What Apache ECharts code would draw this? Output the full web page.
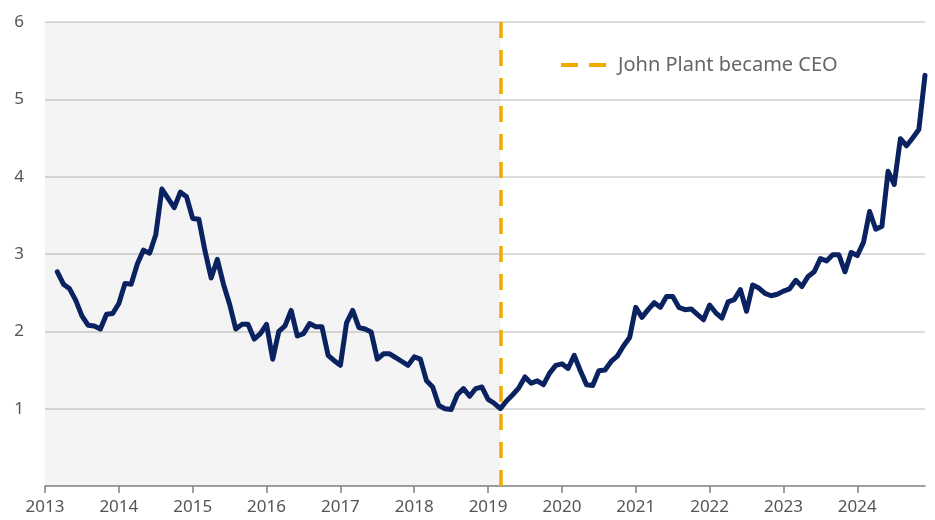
<!DOCTYPE html>
<html>
<head>
<meta charset="utf-8">
<script src="https://cdn.jsdelivr.net/npm/echarts@6/dist/echarts.min.js"></script>
<style>
html,body{margin:0;padding:0;background:#fff;}
#chart{width:935px;height:520px;}
</style>
</head>
<body>
<div id="chart"></div>
<script>
// Categories: monthly, Jan 2013 .. Dec 2024
const startYear = 2013;
const endYear = 2024;
const months = [];
for (let y = startYear; y <= endYear; y++) {
  for (let m = 1; m <= 12; m++) {
    months.push(y + '-' + (m < 10 ? '0' + m : '' + m));
  }
}
// Series values, Mar 2013 .. Dec 2024
const firstMonth = '2013-03';
const values = [
  2.77, 2.61, 2.55, 2.40, 2.20, 2.08, 2.07, 2.03, 2.22, 2.23,
  2.36, 2.62, 2.61, 2.87, 3.05, 3.01, 3.25, 3.84, 3.72, 3.60, 3.80, 3.74,
  3.46, 3.45, 3.04, 2.69, 2.93, 2.61, 2.35, 2.03, 2.09, 2.09, 1.90, 1.97,
  2.09, 1.64, 2.00, 2.07, 2.27, 1.94, 1.97, 2.10, 2.06, 2.06, 1.69, 1.62,
  1.56, 2.11, 2.27, 2.05, 2.03, 1.99, 1.64, 1.71, 1.71, 1.66, 1.61, 1.56,
  1.67, 1.64, 1.36, 1.28, 1.04, 1.00, 0.99, 1.18, 1.26, 1.16, 1.26, 1.28,
  1.12, 1.07, 1.00, 1.10, 1.18, 1.27, 1.41, 1.33, 1.36, 1.31, 1.46, 1.56,
  1.58, 1.52, 1.69, 1.49, 1.31, 1.30, 1.49, 1.50, 1.61, 1.68, 1.81, 1.92,
  2.31, 2.18, 2.28, 2.37, 2.31, 2.45, 2.45, 2.31, 2.28, 2.29, 2.22, 2.15,
  2.34, 2.24, 2.17, 2.38, 2.41, 2.54, 2.26, 2.60, 2.56, 2.49, 2.46, 2.48,
  2.52, 2.55, 2.66, 2.58, 2.71, 2.77, 2.94, 2.91, 2.99, 2.99, 2.77, 3.02,
  2.98, 3.15, 3.55, 3.32, 3.36, 4.07, 3.90, 4.49, 4.40, 4.50, 4.61, 5.31
];
const yTicks = [0, 1, 2, 3, 4, 5, 6];
const ceoMonth = '2019-03';
const legendLabel = 'John Plant became CEO';

const offset = months.indexOf(firstMonth);
const seriesData = months.map((m, i) => (i >= offset && i - offset < values.length) ? values[i - offset] : '-');
const isYearStart = (i, v) => String(v).slice(5) === '01';
const fontFamily = '"Noto Sans", "Open Sans", sans-serif';

const chart = echarts.init(document.getElementById('chart'));
chart.setOption({
  animation: false,
  backgroundColor: '#ffffff',
  textStyle: { fontFamily: fontFamily },
  grid: { left: 45, right: 10, top: 22, bottom: 34, containLabel: false },
  legend: {
    data: [legendLabel],
    left: 554,
    top: 50,
    itemWidth: 52,
    itemHeight: 14,
    selectedMode: false,
    textStyle: { color: '#666', fontSize: 20, fontFamily: fontFamily },
    itemStyle: { color: 'rgba(0,0,0,0)', borderWidth: 0, opacity: 0 },
    lineStyle: { color: '#F5A800', width: 4, type: [17, 11] }
  },
  xAxis: {
    type: 'category',
    data: months,
    boundaryGap: false,
    axisLine: { lineStyle: { color: '#808080', width: 1.5 } },
    axisTick: { interval: isYearStart, length: 7, lineStyle: { color: '#808080', width: 1.5 } },
    axisLabel: {
      interval: isYearStart,
      formatter: v => v.slice(0, 4),
      color: '#555',
      fontSize: 17,
      margin: 13
    },
    splitLine: { show: false }
  },
  yAxis: {
    type: 'value',
    min: yTicks[0],
    max: yTicks[yTicks.length - 1],
    interval: 1,
    axisLine: { show: false },
    axisTick: { show: false },
    axisLabel: {
      formatter: v => (v === 0 ? '' : String(v)),
      color: '#555',
      fontSize: 17,
      margin: 21
    },
    splitLine: { show: true, showMinLine: false, lineStyle: { color: '#dcdcdc', width: 2 } }
  },
  series: [
    {
      name: 'Price',
      type: 'line',
      data: seriesData,
      symbol: 'none',
      z: 3,
      lineStyle: { color: '#0b2260', width: 5, cap: 'round', join: 'round' },
      markArea: {
        silent: true,
        itemStyle: { color: 'rgba(0,0,0,0.043)' },
        data: [[{ xAxis: months[0] }, { xAxis: ceoMonth }]]
      }
    },
    {
      name: legendLabel,
      type: 'line',
      data: [],
      symbol: 'none',
      z: 2,
      lineStyle: { color: '#F5A800', width: 4, type: [17, 11] },
      itemStyle: { color: '#F5A800' },
      markLine: {
        silent: true,
        symbol: ['none', 'none'],
        label: { show: false },
        lineStyle: { color: '#F5A800', width: 3.5, type: [16, 12] },
        data: [{ xAxis: ceoMonth }]
      }
    }
  ]
});
</script>
</body>
</html>
